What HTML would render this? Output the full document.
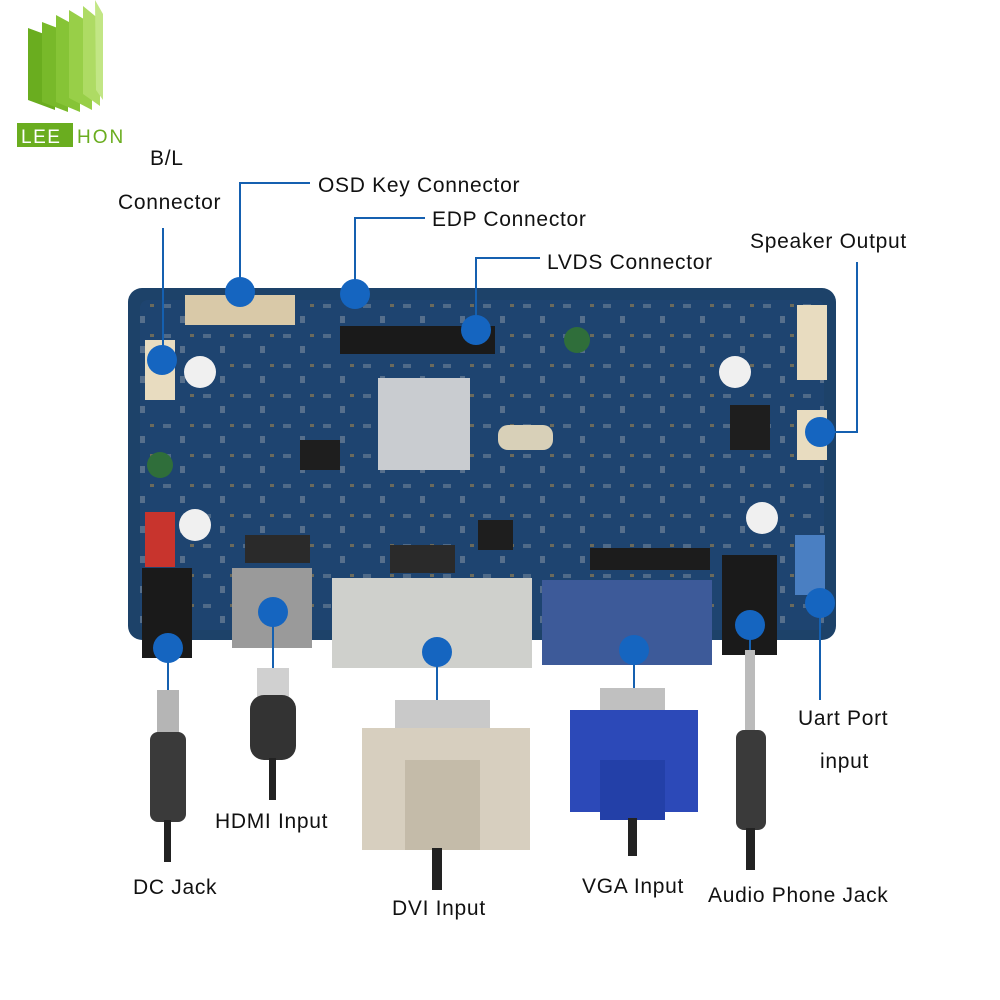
<!DOCTYPE html>
<html><head><meta charset="utf-8"><style>
html,body{margin:0;padding:0;background:#fff;}
svg{display:block}
text{font-family:"Liberation Sans",sans-serif;font-size:21px;fill:#111;letter-spacing:0.7px}
</style></head><body>
<svg width="1000" height="1000" viewBox="0 0 1000 1000">
<defs>
<pattern id="pcb" width="40" height="30" patternUnits="userSpaceOnUse">
<rect width="40" height="30" fill="#1e4470"/>
<rect x="3" y="4" width="8" height="4" fill="#4f6a88"/>
<rect x="20" y="16" width="5" height="7" fill="#566f8c"/>
<rect x="30" y="4" width="4" height="3" fill="#6b6a5c"/>
</pattern>
</defs>
<!-- logo -->
<polygon points="28,28 55,38 55,110 28,100" fill="#6aad1f"/>
<polygon points="42,22 68,32 68,112 42,102" fill="#78b92a"/>
<polygon points="56,15 80,28 80,112 56,102" fill="#86c436"/>
<polygon points="69,10 92,24 92,110 69,98" fill="#98cf48"/>
<polygon points="83,6 100,20 100,106 83,94" fill="#aedb64"/>
<polygon points="95,0 103,14 103,100 96,90" fill="#c2e685"/>
<rect x="17" y="123" width="56" height="24" fill="#6aad1f"/>
<text x="21" y="143" style="fill:#fff;font-size:19px;letter-spacing:1.5px">LEE</text>
<text x="77" y="143" style="fill:#6aad1f;font-size:19px;letter-spacing:2px">HON</text>
<!-- board -->
<rect x="128" y="288" width="708" height="352" rx="14" fill="#1d4269"/>
<rect x="140" y="300" width="684" height="330" rx="8" fill="url(#pcb)"/>
<rect x="378" y="378" width="92" height="92" fill="#c9ccd0"/>
<rect x="340" y="326" width="155" height="28" fill="#1a1a1a"/>
<rect x="185" y="295" width="110" height="30" fill="#d9c9a8"/>
<rect x="145" y="340" width="30" height="60" fill="#e8dcc0"/>
<rect x="797" y="305" width="30" height="75" fill="#e8dcc0"/>
<rect x="797" y="410" width="30" height="50" fill="#e8dcc0"/>
<rect x="145" y="512" width="30" height="55" fill="#c8342d"/>
<rect x="142" y="568" width="50" height="90" fill="#1a1a1a"/>
<rect x="232" y="568" width="80" height="80" fill="#9a9a9a"/>
<rect x="332" y="578" width="200" height="90" fill="#cfd0cc"/>
<rect x="542" y="580" width="170" height="85" fill="#3d5a99"/>
<rect x="722" y="555" width="55" height="100" fill="#1a1a1a"/>
<rect x="795" y="535" width="30" height="60" fill="#4a7fc2"/>
<rect x="590" y="548" width="120" height="22" fill="#1c1c1c"/>
<rect x="730" y="405" width="40" height="45" fill="#1e1e1e"/>
<rect x="498" y="425" width="55" height="25" rx="10" fill="#d8d0b8"/>
<rect x="300" y="440" width="40" height="30" fill="#1e1e1e"/>
<rect x="478" y="520" width="35" height="30" fill="#1e1e1e"/>
<circle cx="577" cy="340" r="13" fill="#2f6e3a"/>
<circle cx="160" cy="465" r="13" fill="#2f6e3a"/>
<rect x="245" y="535" width="65" height="28" fill="#2a2a2a"/>
<rect x="390" y="545" width="65" height="28" fill="#2a2a2a"/>
<circle cx="200" cy="372" r="16" fill="#f0f0f0"/><circle cx="195" cy="525" r="16" fill="#f0f0f0"/>
<circle cx="735" cy="372" r="16" fill="#f0f0f0"/><circle cx="762" cy="518" r="16" fill="#f0f0f0"/>
<!-- connectors lines -->
<g stroke="#1560b0" stroke-width="2" fill="none">
<polyline points="163,228 163,360"/>
<polyline points="240,292 240,183 310,183"/>
<polyline points="355,294 355,218 425,218"/>
<polyline points="476,330 476,258 540,258"/>
<polyline points="820,432 857,432 857,262"/>
<polyline points="820,603 820,700"/>
<polyline points="168,648 168,690"/>
<polyline points="273,612 273,668"/>
<polyline points="437,652 437,700"/>
<polyline points="634,650 634,688"/>
<polyline points="750,625 750,650"/>
</g>
<g fill="#1565c0">
<circle cx="162" cy="360" r="15"/><circle cx="240" cy="292" r="15"/><circle cx="355" cy="294" r="15"/>
<circle cx="476" cy="330" r="15"/><circle cx="820" cy="432" r="15"/><circle cx="820" cy="603" r="15"/>
<circle cx="168" cy="648" r="15"/><circle cx="273" cy="612" r="15"/><circle cx="437" cy="652" r="15"/>
<circle cx="634" cy="650" r="15"/><circle cx="750" cy="625" r="15"/>
</g>
<!-- cables -->
<rect x="157" y="690" width="22" height="45" fill="#b5b5b5"/>
<rect x="150" y="732" width="36" height="90" rx="8" fill="#3a3a3a"/>
<rect x="164" y="820" width="7" height="42" fill="#222"/>
<rect x="257" y="668" width="32" height="30" fill="#d0d0d0"/>
<rect x="250" y="695" width="46" height="65" rx="14" fill="#333"/>
<rect x="269" y="758" width="7" height="42" fill="#222"/>
<rect x="395" y="700" width="95" height="30" fill="#c9c9c9"/>
<rect x="362" y="728" width="168" height="122" fill="#d7cfbf"/>
<rect x="405" y="760" width="75" height="90" fill="#c4bba9"/>
<rect x="432" y="848" width="10" height="42" fill="#222"/>
<rect x="600" y="688" width="65" height="24" fill="#c0c0c0"/>
<rect x="570" y="710" width="128" height="102" fill="#2c49b8"/>
<rect x="600" y="760" width="65" height="60" fill="#2340a8"/>
<rect x="628" y="818" width="9" height="38" fill="#222"/>
<rect x="745" y="650" width="10" height="80" fill="#bbb"/>
<rect x="736" y="730" width="30" height="100" rx="8" fill="#3a3a3a"/>
<rect x="746" y="828" width="9" height="42" fill="#222"/>
<!-- labels -->
<text x="150" y="165">B/L</text>
<text x="118" y="209">Connector</text>
<text x="318" y="192">OSD Key Connector</text>
<text x="432" y="226">EDP Connector</text>
<text x="547" y="269">LVDS Connector</text>
<text x="750" y="248">Speaker Output</text>
<text x="798" y="725">Uart Port</text>
<text x="820" y="768">input</text>
<text x="215" y="828">HDMI Input</text>
<text x="133" y="894">DC Jack</text>
<text x="392" y="915">DVI Input</text>
<text x="582" y="893">VGA Input</text>
<text x="708" y="902">Audio Phone Jack</text>
</svg>
</body></html>
